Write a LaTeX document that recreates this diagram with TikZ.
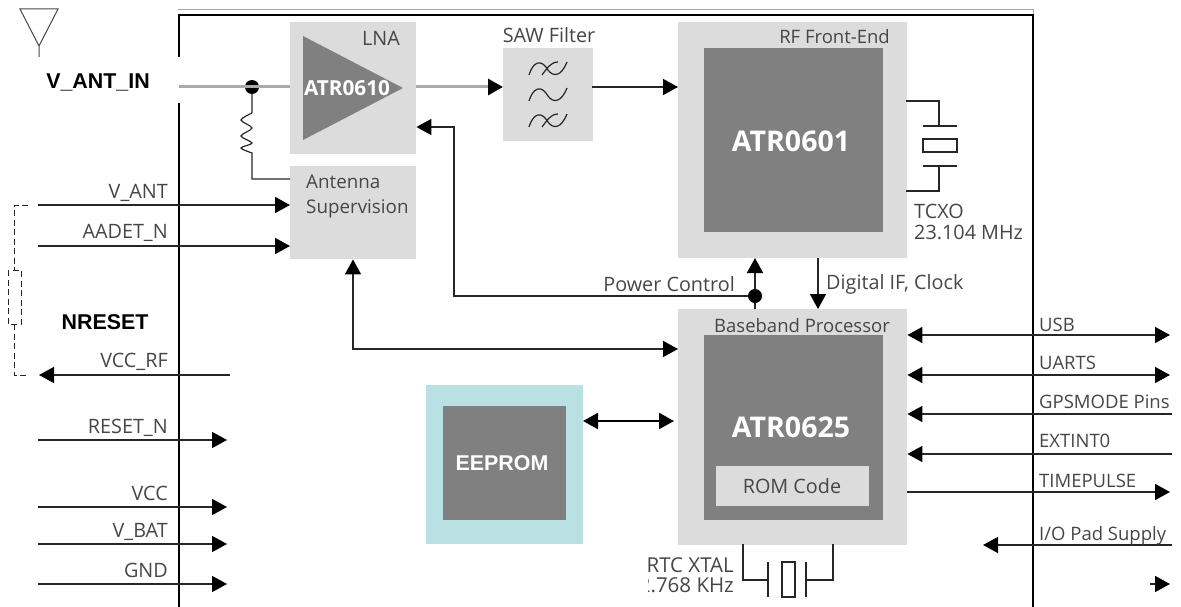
\documentclass[tikz,border=0pt]{standalone}
\usepackage{fontspec}
\setmainfont{Open Sans}
\newfontfamily\labelfont{Liberation Sans}
\usetikzlibrary{arrows.meta}
\definecolor{boxgray}{RGB}{220,220,220}
\definecolor{chipgray}{RGB}{128,128,128}
\definecolor{eepromblue}{RGB}{185,224,227}
\definecolor{textgray}{RGB}{70,70,70}
\definecolor{wiregray}{RGB}{170,170,170}
\tikzset{
  lightbox/.style={fill=boxgray, inner sep=0, anchor=north west},
  chipbox/.style={fill=chipgray, inner sep=0, anchor=north west},
  pinlabel/.style={text=textgray, inner sep=0, font=\fontsize{18.5}{22}\selectfont},
  widelabel/.style={text=textgray, inner sep=0, font=\fontsize{19.8}{22}\selectfont},
  chiplabel/.style={text=white, inner sep=0, font=\fontsize{28.5}{30}\selectfont\bfseries},
  blacklabel/.style={inner sep=0, font=\fontsize{21.4}{24}\selectfont\labelfont\bfseries},
  wire/.style={line width=1.5, color=black!85},
  sig/.style={wire, -{Triangle[length=15,width=16,black]}},
  sigboth/.style={wire, {Triangle[length=15,width=16,black]}-{Triangle[length=15,width=16,black]}},
  part/.style={line width=1.2, color=black!85},
  dashpart/.style={line width=0.9, color=black!85, dash pattern=on 6 off 3.5},
}
\begin{document}
\begin{tikzpicture}[x=1pt, y=-1pt]
\useasboundingbox (0,0) rectangle (1181,607);

% module frame
\draw[line width=1, wiregray] (178,10)--(1033,10)--(1033,15);
\draw[line width=2.5] (179,57)--(179,15)--(1033,15)--(1033,607);
\draw[line width=2.5] (179,103)--(179,607);

% blocks
\node[lightbox, minimum width=126, minimum height=132] (lna) at (290,22) {};
\node[lightbox, minimum width=126, minimum height=93] (super) at (290,166) {};
\node[lightbox, minimum width=90, minimum height=93] (saw) at (503,48) {};
\node[lightbox, minimum width=229, minimum height=236] (rf) at (678,22) {};
\node[chipbox, minimum width=179, minimum height=184] (rfchip) at (704,48) {};
\node[lightbox, minimum width=229, minimum height=236] (bb) at (678,309) {};
\node[chipbox, minimum width=179, minimum height=185] (bbchip) at (704,335) {};
\node[lightbox, minimum width=153, minimum height=40] (rom) at (716,466) {};
\node[fill=eepromblue, inner sep=0, anchor=north west, minimum width=157, minimum height=159] (eeprombox) at (426,385) {};
\node[chipbox, minimum width=123, minimum height=114] (eepromchip) at (443,406) {};

% lna triangle
\fill[chipgray] (303,36)--(403,88)--(303,140)--cycle;

\node[widelabel, anchor=east] (lnatext) at (400,38) {LNA};
\node[chiplabel, font=\fontsize{20.7}{22}\selectfont\bfseries] (atrlna) at (347,88) {ATR0610};
\node[pinlabel, anchor=north west, align=left, font=\fontsize{18.8}{25}\selectfont] (supertext) at (306,175) {Antenna\\Supervision};
\node[widelabel] (sawtext) at (549,35) {SAW Filter};
\node[pinlabel, anchor=east] (rftext) at (890,37) {RF Front-End};
\node[chiplabel] (atrrf) at (791,141) {ATR0601};
\node[pinlabel] (bbtext) at (802,326) {Baseband Processor};
\node[chiplabel] (atrbb) at (791,427) {ATR0625};
\node[widelabel] (romtext) at (792,486) {ROM Code};
\node[blacklabel, text=white] (eepromtext) at (502,463) {EEPROM};
\node[blacklabel] (vantin) at (98,82) {V\_ANT\_IN};
\node[blacklabel] (nreset) at (105,322) {NRESET};

% antenna
\draw[line width=1, textgray] (39,46)--(20,9)--(58,9)--(39,46)--(39,57);

% rf path
\coordinate (inline) at (179,87);
\coordinate (sawout) at (592,87);
\node[circle, fill=black, inner sep=0, minimum size=14] (indot) at (252,87) {};
\draw[line width=3, wiregray] (inline)--(lna.west|-inline);
\draw[line width=3, wiregray, -{Triangle[length=15,width=16,black]}] (lna.east|-inline)--(saw.west|-inline);
\draw[sig] (sawout)--(rf.west|-sawout);

% filter symbols
\foreach \y in {68,94,120}
\draw[part] (529,\y+7) .. controls (533,\y-6) and (541,\y-10) .. (548,\y+2) .. controls (553,\y+9) and (561,\y+9) .. (567,\y-6);
\foreach \y in {68,120}
\draw[part] (542,\y+7) .. controls (546,\y+2) and (550,\y-6) .. (558,\y-6);

% resistor to supervision
\coordinate (resend) at (290,179);
\draw[part] (indot)--(252,113)
  plot[smooth] coordinates {(252,113) (241,120) (252,128) (241,136) (252,143) (241,148) (252,153)}
  --(252,179)--(resend);

% left pins
\coordinate (vantpin) at (38,205);
\coordinate (aadetpin) at (38,246);
\draw[sig] (vantpin)--(super.west|-vantpin);
\draw[sig] (aadetpin)--(super.west|-aadetpin);
\node[widelabel, anchor=base east] (vanttext) at (168,198) {V\_ANT};
\node[widelabel, anchor=base east] (aadettext) at (168,238) {AADET\_N};

\coordinate (vccrfin) at (230,375);
\coordinate (vccrfout) at (39,375);
\draw[sig] (vccrfin)--(vccrfout);
\node[widelabel, anchor=base east] (vccrftext) at (168,367) {VCC\_RF};

\foreach \i/\y/\txt in {reset/440/RESET\_N, vcc/507/VCC, vbat/544/V\_BAT, gnd/584/GND}{
  \coordinate (\i pin) at (38,\y);
  \coordinate (\i end) at (227,\y);
  \draw[sig] (\i pin)--(\i end);
  \node[widelabel, anchor=base east] (\i text) at (168,\y-7) {\txt};
}

% dashed link
\coordinate (dashtop) at (28,205);
\coordinate (dashbot) at (28,375);
\draw[dashpart] (dashtop)--(14,205)--(14,270);
\draw[dashpart] (14,324)--(14,375)--(dashbot);
\draw[dashpart] (8,270) rectangle (21,324);

% crystal
\coordinate (tcxotop) at (906,101);
\coordinate (tcxobot) at (906,191);
\draw[part] (tcxotop)--(939,101)--(939,126);
\draw[part] (923,126)--(957,126);
\draw[part] (923,139) rectangle (957,152);
\draw[part] (923,166)--(957,166);
\draw[part] (939,166)--(939,191)--(tcxobot);
\node[pinlabel, anchor=north west, align=left, font=\fontsize{19.8}{21}\selectfont] (tcxotext) at (914,204) {TCXO\\23.104 MHz};

% control lines
\node[circle, fill=black, inner sep=0, minimum size=14] (powerdot) at (755,296) {};
\coordinate (lnactl) at (454,127);
\draw[sig] (powerdot)--(755,258);
\draw[wire] (755,309)--(powerdot);
\draw[sig] (powerdot)--(454,296)--(lnactl)--(lna.east|-lnactl);
\node[widelabel, anchor=east] (powertext) at (735,284) {Power Control};
\coordinate (ifout) at (818,258);
\draw[sig] (ifout)--(818,309);
\node[widelabel, anchor=west] (iftext) at (826,284) {Digital IF, Clock};
\coordinate (supbus) at (353,349);
\draw[sigboth] (super.south-|supbus)--(supbus)--(bb.west|-supbus);
\coordinate (eepbus) at (583,421);
\draw[line width=2, black, {Triangle[length=15,width=16]}-{Triangle[length=15,width=16]}] (eepbus)--(674,421);

% right pins
\foreach \i/\y in {usb/335, uart/375}{
  \coordinate (\i pin) at (1170,\y);
  \draw[sigboth] (bb.east|-\i pin)--(\i pin);
}
\foreach \i/\y in {gps/414, ext/454}{
  \coordinate (\i pin) at (1172,\y);
  \draw[sig] (\i pin)--(bb.east|-\i pin);
}
\coordinate (timepin) at (1170,492);
\draw[sig] (bb.east|-timepin)--(timepin);
\coordinate (iopin) at (1172,545);
\coordinate (ioend) at (983,545);
\draw[sig] (iopin)--(ioend);
\coordinate (lastin) at (1150,584);
\coordinate (lastout) at (1170,584);
\draw[sig] (lastin)--(lastout);
\foreach \i/\y/\txt in {usb/331/USB, uart/369/UARTS, gps/408/GPSMODE Pins, ext/447/EXTINT0, time/487/TIMEPULSE, io/540/{I/O Pad Supply}}
\node[pinlabel, anchor=base west] (\i text) at (1039,\y) {\txt};

% rtc crystal
\coordinate (rtcleft) at (743,544);
\coordinate (rtcright) at (833,544);
\draw[part] (rtcleft)--(743,580)--(768,580);
\draw[part] (768,562)--(768,597);
\draw[part] (782,562) rectangle (795,597);
\draw[part] (806,562)--(806,597);
\draw[part] (806,580)--(833,580)--(rtcright);
\node[pinlabel, anchor=base east, font=\fontsize{20.5}{22}\selectfont] (rtctext) at (734,572) {RTC XTAL};
\node[pinlabel, anchor=base east, font=\fontsize{20.5}{22}\selectfont] (khztext) at (734,592) {2.768 KHz};
\fill[white] (620,576) rectangle (648,598);
\end{tikzpicture}
\end{document}
